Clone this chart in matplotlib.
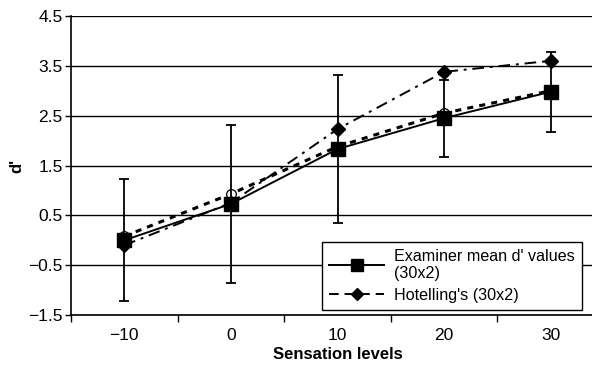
import matplotlib.pyplot as plt
from matplotlib.lines import Line2D
import numpy as np

plt.rcParams['font.family'] = ['Liberation Sans', 'DejaVu Sans']

levels = [-10, 0, 10, 20, 30]
examiner = [0.0, 0.73, 1.83, 2.45, 2.98]     # mean d'
examiner_err = [1.22, 1.58, 1.48, 0.77, 0.80]
hotelling = [-0.1, 0.75, 2.23, 3.38, 3.60]
other = [0.08, 0.93, 1.88, 2.55, 3.00]        # dashed, open circles (not in legend)

x = np.arange(len(levels))

fig = plt.figure(figsize=(5.92, 3.66), dpi=100)
ax = fig.add_axes([0.12, 0.1393, 0.9003, 0.817])

hot_ls = (0, (6, 3, 1.5, 3))
ax.plot(x, other, color='black', lw=2.2, ls=(0, (2.0, 2.0)), marker='o',
        ms=7, mfc='white', mec='black', mew=0.9, zorder=3)
ax.plot(x, hotelling, color='black', lw=1.4, ls=hot_ls, marker='D', ms=7, zorder=4)
ax.errorbar(x, examiner, yerr=examiner_err, color='black', lw=1.4, marker='s',
            ms=10.5, capsize=3.5, elinewidth=1.3, capthick=1.3, zorder=5)

ax.set_xlim(-0.5, 4.5)
ax.set_ylim(-1.5, 4.5)
ax.set_yticks(np.arange(-1.5, 4.6, 1.0))
ax.set_yticklabels(['\u22121.5', '\u22120.5', '0.5', '1.5', '2.5', '3.5', '4.5'])
ax.set_xticks(x)
ax.set_xticklabels(['\u221210', '0', '10', '20', '30'])
ax.set_xticks(np.arange(-0.5, 4.6, 1.0), minor=True)
ax.tick_params(axis='x', which='major', length=0, pad=9, labelsize=12.5)
ax.tick_params(axis='x', which='minor', length=5, width=1, direction='out')
ax.tick_params(axis='y', length=4, width=1, direction='out', labelsize=12.5, pad=2)

ax.grid(axis='y', color='black', lw=1)
ax.set_axisbelow(True)
for s in ['top', 'right']:
    ax.spines[s].set_visible(False)
for s in ['left', 'bottom']:
    ax.spines[s].set_linewidth(1.2)

ax.set_xlabel('Sensation levels', fontweight='bold', fontsize=12, labelpad=3)
ax.set_ylabel("d'", fontweight='bold', fontsize=12, labelpad=3)

handles = [Line2D([], [], color='black', lw=1.4, marker='s', ms=8),
           Line2D([], [], color='black', lw=1.4, ls=(0, (5, 3)), marker='D', ms=6)]
labels = ["Examiner mean d' values\n(30x2)", "Hotelling's (30x2)"]
leg = ax.legend(handles, labels, loc='lower left', bbox_to_anchor=(0.471, 0.017),
                borderaxespad=0, fontsize=11.6, fancybox=False, framealpha=1,
                edgecolor='black', handlelength=3.4, borderpad=0.45,
                labelspacing=0.4, handletextpad=0.6)
leg.get_frame().set_linewidth(1)
leg.set_zorder(10)

fig.savefig('out.png', dpi=100)
